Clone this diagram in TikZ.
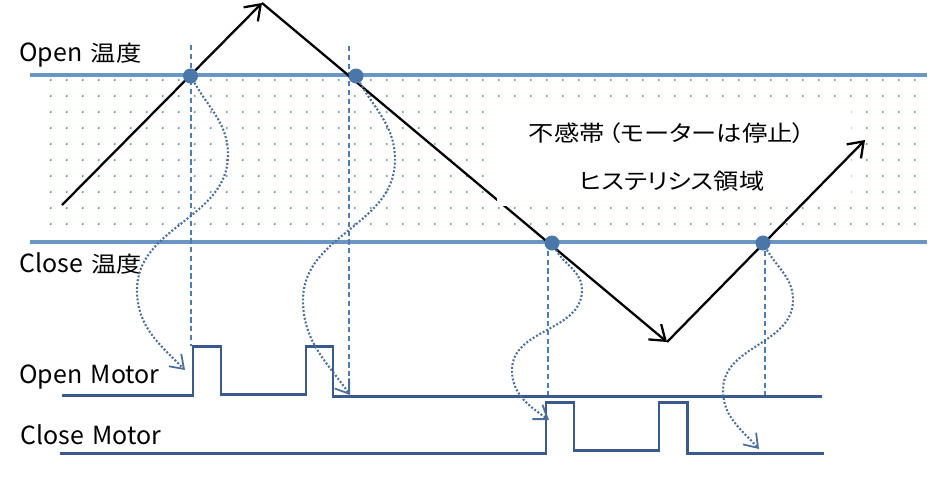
\documentclass[tikz,border=0pt]{standalone}
\usepackage{fontspec}
\setmainfont[WordSpace=1.5]{Noto Sans CJK JP}
\newfontfamily\cjk[FakeStretch=1.15,CharacterWidth=AlternateProportional]{Noto Sans CJK JP}
\usepackage{xcolor}
\usepackage{tikz}
\usetikzlibrary{arrows.meta}
\definecolor{bandblue}{RGB}{106,150,196}
\definecolor{dotblue}{RGB}{110,145,185}
\definecolor{ptblue}{RGB}{74,118,168}
\definecolor{motorblue}{RGB}{58,90,140}
\definecolor{guideblue}{RGB}{80,125,175}
\definecolor{hintblue}{RGB}{75,110,155}

\begin{document}
\begin{tikzpicture}[
    lbl/.style={anchor=base west,inner sep=0pt,font=\fontsize{14.2}{16}\selectfont},
    zone/.style={font=\cjk\fontsize{12.5}{15}\selectfont},
    band/.style={bandblue,line width=2pt},
    pt/.style={circle,fill=ptblue,inner sep=0pt,minimum size=0.3cm},
    guide/.style={guideblue,line width=0.6pt,dash pattern=on 3pt off 2pt},
    temp/.style={line width=1.3pt,-{Straight Barb[length=2.8mm,width=4mm]}},
    hint/.style={hintblue,line width=1.2pt,dash pattern=on 1.1pt off 1.1pt,-{Straight Barb[length=2.5mm,width=3.5mm,line width=1pt]}},
    motor/.style={motorblue,line width=1.7pt}]
    \useasboundingbox (0,0) rectangle (18.7,-9.78);
    % dotted dead band
    \foreach \i in {0,...,54}
        \foreach \j in {0,...,9}
            \fill[dotblue] (1.014+\i*0.32,-1.6-\j*0.32) circle (0.024);
    \draw[band] (0.6,-1.5) -- (18.54,-1.5);
    \draw[band] (0.6,-4.84) -- (18.54,-4.84);
    % guides
    \draw[guide] (3.82,-0.9) -- (3.82,-6.92);
    \draw[guide] (6.98,-0.92) -- (6.98,-7.9);
    \draw[guide] (10.96,-4.84) -- (10.96,-7.94);
    \draw[guide] (15.3,-4.84) -- (15.3,-7.98);
    % temperature
    \coordinate (a) at (1.24,-4.10);
    \coordinate (p) at (5.24,-0.06);
    \coordinate (v) at (13.34,-6.84);
    \coordinate (e) at (17.3,-2.8);
    \draw[temp] (a) -- (p);
    \draw[temp] (p) -- (v);
    \fill[white] (9.94,-2.04) rectangle (17.02,-4.12);
    \draw[temp] (v) -- (e);
    \node[zone] (dead) at (13.34,-2.66) {不感帯\,（モーターは停止）};
    \node[zone] (hyst) at (13.43,-3.63) {ヒステリシス領域};
    % labels
    \node[lbl] (openT) at (0.38,-1.22) {Open {\cjk\fontsize{12.5}{15}\selectfont 温度}};
    \node[lbl] (closeT) at (0.38,-5.45) {Close {\cjk\fontsize{12.5}{15}\selectfont 温度}};
    \node[lbl] (openM) at (0.38,-7.66) {Open Motor};
    \node[lbl] (closeM) at (0.4,-8.88) {Close Motor};
    % motors
    \draw[motor] (1.24,-7.9) -- (3.86,-7.9) -- (3.86,-6.92) -- (4.42,-6.92) -- (4.42,-7.88)
        -- (6.12,-7.88) -- (6.12,-6.92) -- (6.66,-6.92) -- (6.66,-7.92) -- (16.44,-7.92);
    \draw[motor] (1.2,-9.06) -- (10.92,-9.06) -- (10.92,-8.04) -- (11.48,-8.04) -- (11.48,-9.0)
        -- (13.18,-9.0) -- (13.18,-8.04) -- (13.74,-8.04) -- (13.74,-9.06) -- (16.48,-9.06);
    % switch points
    \node[pt] (c1) at (3.81,-1.52) {};
    \node[pt] (c2) at (7.12,-1.52) {};
    \node[pt] (c3) at (11.04,-4.86) {};
    \node[pt] (c4) at (15.26,-4.86) {};
    \coordinate (t1) at (3.7,-7.4);
    \coordinate (t2) at (7.0,-7.9);
    \coordinate (t3) at (10.98,-8.4);
    \coordinate (t4) at (15.18,-8.98);
    \draw[hint] (c1) to[out=-60,in=90] (4.56,-3.1) to[out=-90,in=90] (2.74,-5.8) to[out=-90,in=135] (t1);
    \draw[hint] (c2) to[out=-60,in=90] (7.9,-3.2) to[out=-90,in=90] (6.06,-6.0) to[out=-90,in=125] (t2);
    \draw[hint] (c3) to[out=-60,in=90] (11.64,-5.8) to[out=-90,in=90] (10.24,-7.4) to[out=-90,in=145] (t3);
    \draw[hint] (c4) to[out=-60,in=90] (15.86,-6.0) to[out=-90,in=90] (14.46,-7.8) to[out=-90,in=132] (t4);
\end{tikzpicture}
\end{document}
